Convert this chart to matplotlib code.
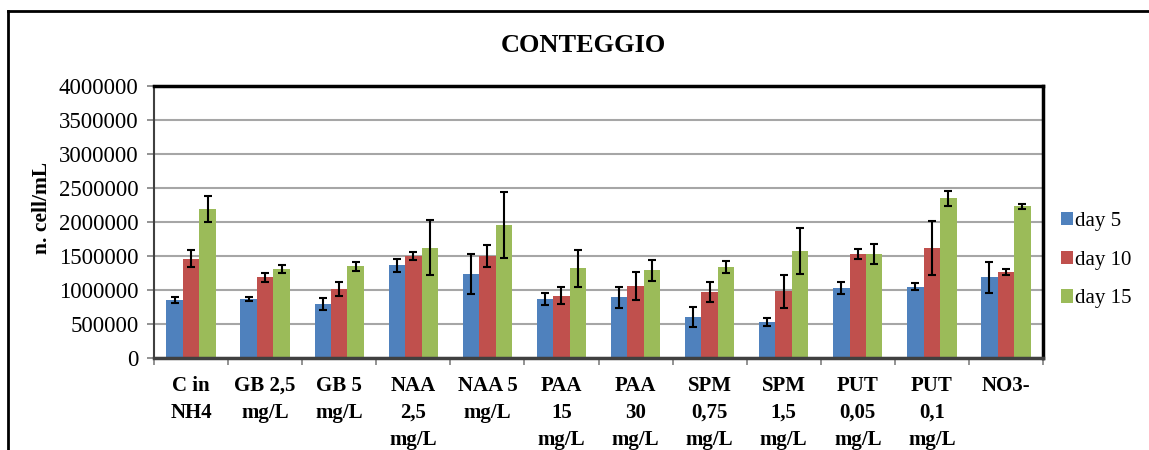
import numpy as np
import matplotlib
matplotlib.use("Agg")
import matplotlib.pyplot as plt
from matplotlib.lines import Line2D

plt.rcParams['font.family'] = ['Liberation Serif', 'DejaVu Serif']

categories = ["C in\nNH4", "GB 2,5\nmg/L", "GB 5\nmg/L", "NAA\n2,5\nmg/L", "NAA 5\nmg/L",
              "PAA\n15\nmg/L", "PAA\n30\nmg/L", "SPM\n0,75\nmg/L", "SPM\n1,5\nmg/L",
              "PUT\n0,05\nmg/L", "PUT\n0,1\nmg/L", "NO3-"]

day5 = [847000, 862000, 798000, 1361000, 1234000, 871000, 891000, 597000, 529000, 1028000, 1048000, 1185000]
day10 = [1459000, 1185000, 1018000, 1498000, 1503000, 915000, 1062000, 964000, 979000, 1532000, 1621000, 1263000]
day15 = [2193000, 1312000, 1346000, 1625000, 1958000, 1317000, 1288000, 1341000, 1572000, 1523000, 2350000, 2233000]

err5 = [45000, 30000, 90000, 93000, 300000, 90000, 160000, 147000, 56000, 86000, 49000, 230000]
err10 = [125000, 60000, 105000, 60000, 166000, 122000, 205000, 147000, 240000, 73000, 394000, 44000]
err15 = [190000, 60000, 60000, 404000, 485000, 272000, 155000, 90000, 340000, 147000, 110000, 37000]

series = [("day 5", day5, err5, "#4F81BD"),
          ("day 10", day10, err10, "#C0504D"),
          ("day 15", day15, err15, "#9BBB59")]

fig = plt.figure(figsize=(11.49, 4.5), dpi=100)
ax = fig.add_axes([154 / 1149, 1 - 358 / 450, 889 / 1149, 272 / 450])

x = np.arange(len(categories))
w = 1 / 4.5
for i, (name, vals, errs, col) in enumerate(series):
    ax.bar(x + (i - 1) * w, vals, w, color=col, label=name, zorder=2)
    ax.errorbar(x + (i - 1) * w, vals, yerr=errs, fmt="none", ecolor="black",
                elinewidth=1.5, capsize=3.2, capthick=1.5, zorder=3)

ax.set_xlim(-0.5, len(categories) - 0.5)
ax.set_ylim(0, 4000000)
ax.set_yticks(np.arange(0, 4000001, 500000))
ax.set_yticklabels([str(v) for v in range(0, 4000001, 500000)], fontsize=16.5)
ax.yaxis.grid(True, color="#a6a6a6", lw=1.5, zorder=0)
ax.set_axisbelow(True)

ax.set_xticks(x)
ax.set_xticklabels(categories, fontsize=15, fontweight="bold", linespacing=1.45)
ax.set_xticks(np.arange(-0.5, len(categories), 1), minor=True)
ax.tick_params(axis="x", which="major", length=0, pad=13)
ax.tick_params(axis="x", which="minor", length=5, width=1.2, color="#808080")
ax.tick_params(axis="y", length=5, width=1.2, color="#808080", pad=6)

ax.spines["top"].set_linewidth(2.5)
ax.spines["right"].set_linewidth(2.5)
ax.spines["left"].set_linewidth(1.5)
ax.spines["left"].set_color("#404040")
ax.spines["bottom"].set_linewidth(2.5)
ax.spines["bottom"].set_color("#404040")

ax.set_ylabel("n. cell/mL", fontsize=15.5, fontweight="bold")
ax.yaxis.set_label_coords(-0.115, 0.55)
fig.text(0.508, 0.898, "CONTEGGIO", ha="center", va="center", fontsize=19, fontweight="bold")

ax.legend(loc="center left", bbox_to_anchor=(0.999, 0.36), frameon=False, fontsize=15,
          handlelength=0.6, handleheight=0.6, handletextpad=0.1, labelspacing=0.95)

# outer chart frame (cropped at right and bottom)
fig.add_artist(Line2D([8 / 1149, 8 / 1149], [0, 1 - 11 / 450], transform=fig.transFigure, color="black", lw=2))
fig.add_artist(Line2D([8 / 1149, 1], [1 - 11 / 450, 1 - 11 / 450], transform=fig.transFigure, color="black", lw=2))

fig.savefig("out.png", dpi=100)
